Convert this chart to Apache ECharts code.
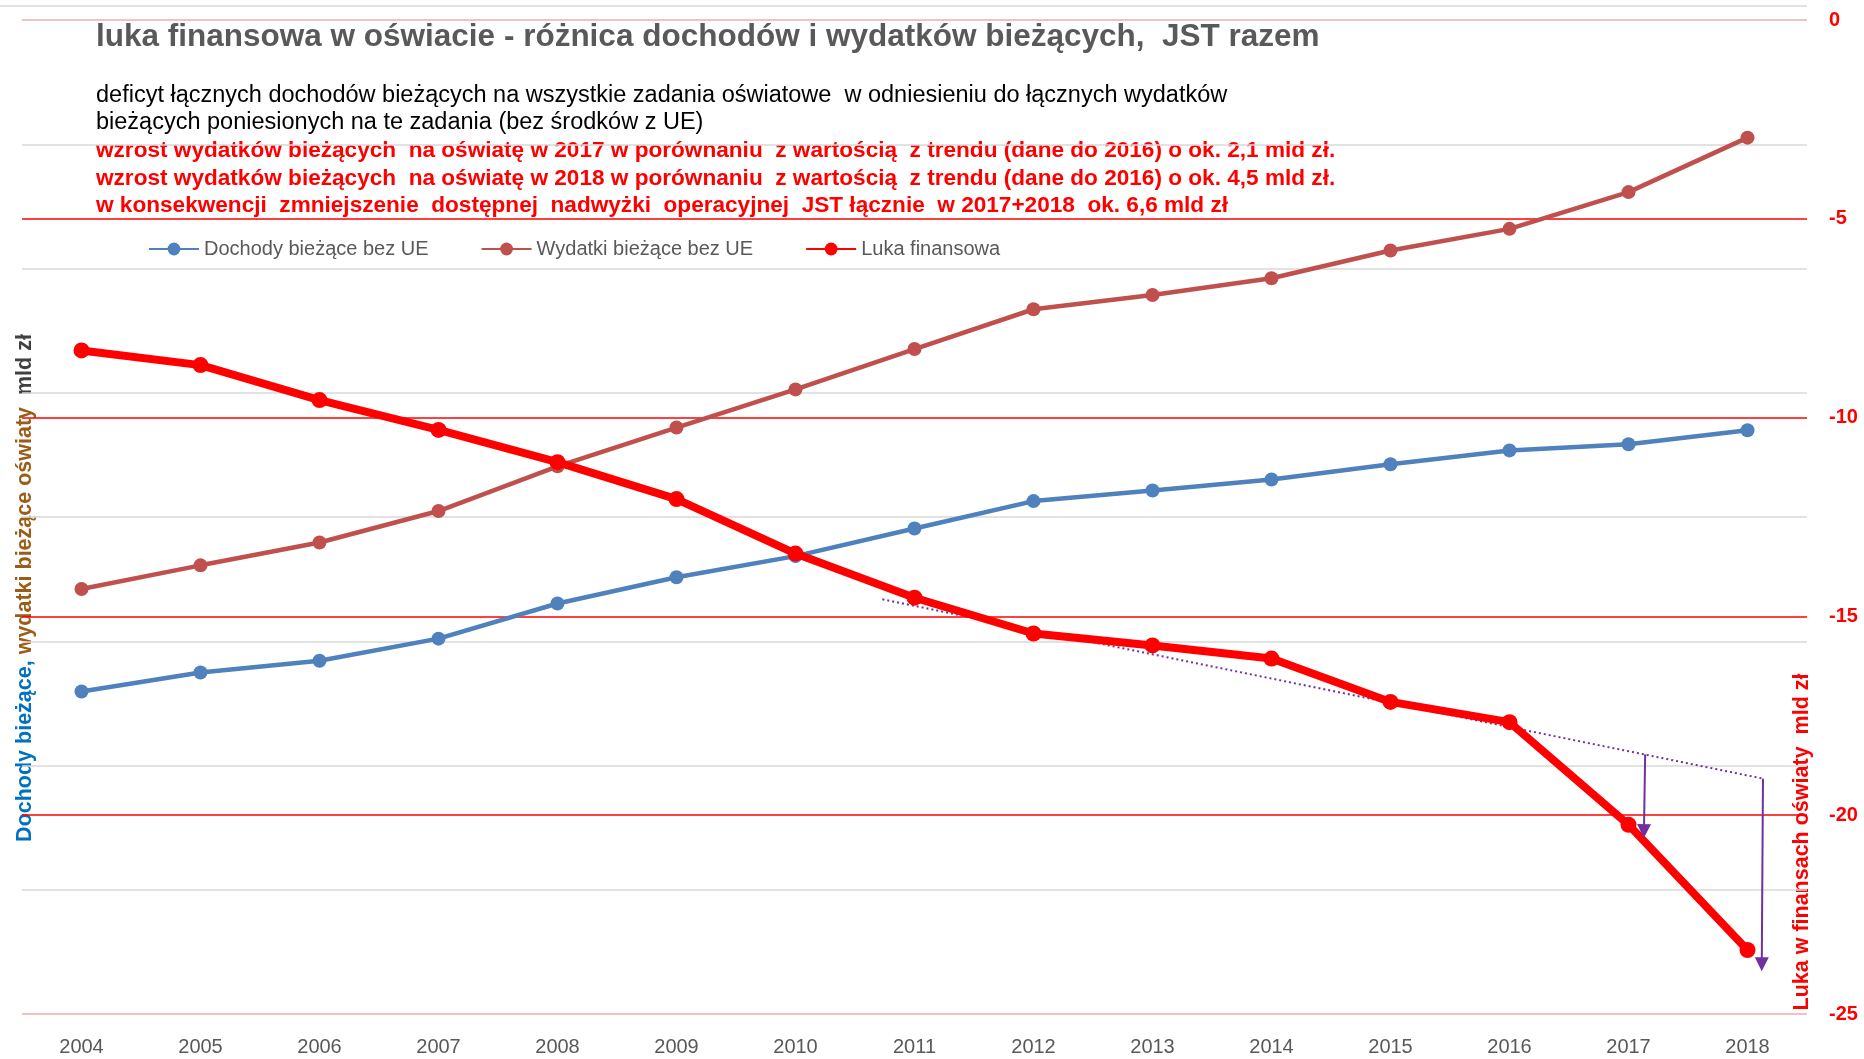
<!DOCTYPE html>
<html>
<head>
<meta charset="utf-8">
<title>luka finansowa w oświacie</title>
<script src="https://cdn.jsdelivr.net/npm/echarts@6/dist/echarts.min.js"></script>
<style>
  html, body { margin: 0; padding: 0; background: #fff; }
  #chart { width: 1864px; height: 1059px; }
</style>
</head>
<body>
<div id="chart"></div>
<script>
// dane (mld zł)
var years = ['2004', '2005', '2006', '2007', '2008', '2009', '2010', '2011', '2012', '2013', '2014', '2015', '2016', '2017', '2018'];
var dochody = [25.95, 27.49, 28.43, 30.21, 33.04, 35.15, 36.85, 39.07, 41.28, 42.13, 43.02, 44.24, 45.36, 45.85, 46.98];
var wydatki = [34.21, 36.11, 37.95, 40.48, 44.08, 47.2, 50.27, 53.52, 56.72, 57.87, 59.21, 61.45, 63.19, 66.15, 70.53];
var luka = [-8.31, -8.68, -9.56, -10.31, -11.12, -12.05, -13.42, -14.53, -15.43, -15.73, -16.06, -17.15, -17.66, -20.24, -23.39];

// trend (dane do 2016) i strzałki odchylenia
var trend = [[2010.73, -14.57], [2018.13, -19.08]];
var arrow2017 = [[2017.14, -18.47], [2017.13, -20.4]];
var arrow2018 = [[2018.13, -19.08], [2018.12, -23.75]];

var rightTicks = [-25, -20, -15, -10, -5, 0];

var chart = echarts.init(document.getElementById('chart'));

var option = {
  animation: false,
  backgroundColor: '#fff',
  grid: { left: 22, right: 57, top: 20, bottom: 45, containLabel: false },
  legend: {
    data: ['Dochody bieżące bez UE', 'Wydatki bieżące bez UE', 'Luka finansowa'],
    left: 143,
    top: 234,
    itemWidth: 50,
    itemHeight: 16,
    itemGap: 52,
    textStyle: { fontFamily: 'Liberation Sans', fontSize: 20, color: '#595959' }
  },
  xAxis: [
    {
      type: 'category',
      data: years,
      boundaryGap: true,
      axisLine: { show: false },
      axisTick: { show: false },
      axisLabel: { color: '#595959', fontSize: 20, fontFamily: 'Liberation Sans', margin: 23 }
    },
    {
      type: 'value',
      min: 2003.5,
      max: 2018.5,
      show: false
    }
  ],
  yAxis: [
    {
      type: 'value',
      position: 'left',
      min: 0,
      max: 80,
      interval: 10,
      axisLine: { show: false },
      axisTick: { show: false },
      axisLabel: { show: false },
      splitLine: { lineStyle: { color: '#D9D9D9', width: 1.5 } }
    },
    {
      type: 'value',
      position: 'right',
      min: rightTicks[0],
      max: rightTicks[rightTicks.length - 1],
      interval: 5,
      axisLine: { show: false },
      axisTick: { show: false },
      axisLabel: { color: '#FF0000', fontWeight: 'bold', fontSize: 20, fontFamily: 'Liberation Sans', margin: 22 },
      splitLine: {
        lineStyle: {
          color: ['#F2B8B8', '#FF0000', '#FF0000', '#FF0000', '#FF0000', '#F2B8B8'],
          width: 1.5
        }
      }
    }
  ],
  series: [
    {
      name: 'Dochody bieżące bez UE',
      type: 'line',
      data: dochody,
      yAxisIndex: 0,
      symbol: 'circle',
      symbolSize: 14,
      itemStyle: { color: '#4F81BD' },
      lineStyle: { color: '#4F81BD', width: 4.5 }
    },
    {
      name: 'Wydatki bieżące bez UE',
      type: 'line',
      data: wydatki,
      yAxisIndex: 0,
      symbol: 'circle',
      symbolSize: 14,
      itemStyle: { color: '#C0504D' },
      lineStyle: { color: '#C0504D', width: 4.5 }
    },
    {
      name: 'trend',
      type: 'line',
      xAxisIndex: 1,
      yAxisIndex: 1,
      data: trend,
      symbol: 'none',
      lineStyle: { color: '#7030A0', width: 2, type: [2, 3] },
      z: 3
    },
    {
      name: 'Luka finansowa',
      type: 'line',
      data: luka,
      yAxisIndex: 1,
      symbol: 'circle',
      symbolSize: 16,
      itemStyle: { color: '#FF0000' },
      lineStyle: { color: '#FF0000', width: 8 },
      z: 4
    },
    {
      name: 'strzałki',
      type: 'lines',
      coordinateSystem: 'cartesian2d',
      xAxisIndex: 1,
      yAxisIndex: 1,
      symbol: ['none', 'triangle'],
      symbolSize: [15, 14],
      lineStyle: { color: '#7030A0', width: 2, opacity: 1 },
      data: [{ coords: arrow2017 }, { coords: arrow2018 }],
      z: 5
    }
  ],
  graphic: [
    {
      type: 'line',
      shape: { x1: 0, y1: 6, x2: 1807, y2: 6 },
      style: { stroke: '#D9D9D9', lineWidth: 1.5 },
      silent: true
    },
    {
      type: 'text', left: 96, top: 21,
      style: {
        text: 'luka finansowa w oświacie - różnica dochodów i wydatków bieżących,  JST razem',
        fill: '#595959', font: 'bold 31.5px "Liberation Sans"'
      }
    },
    {
      type: 'text', left: 96, top: 84,
      style: {
        text: 'deficyt łącznych dochodów bieżących na wszystkie zadania oświatowe  w odniesieniu do łącznych wydatków',
        fill: '#000', font: '23.5px "Liberation Sans"'
      }
    },
    {
      type: 'text', left: 96, top: 111,
      style: {
        text: 'bieżących poniesionych na te zadania (bez środków z UE)',
        fill: '#000', font: '23.5px "Liberation Sans"'
      }
    },
    {
      type: 'text', left: 96, top: 139,
      style: {
        text: 'wzrost wydatków bieżących  na oświatę w 2017 w porównaniu  z wartością  z trendu (dane do 2016) o ok. 2,1 mld zł.',
        fill: '#FF0000', font: 'bold 22.6px "Liberation Sans"'
      }
    },
    {
      type: 'text', left: 96, top: 167,
      style: {
        text: 'wzrost wydatków bieżących  na oświatę w 2018 w porównaniu  z wartością  z trendu (dane do 2016) o ok. 4,5 mld zł.',
        fill: '#FF0000', font: 'bold 22.6px "Liberation Sans"'
      }
    },
    {
      type: 'text', left: 96, top: 194,
      style: {
        text: 'w konsekwencji  zmniejszenie  dostępnej  nadwyżki  operacyjnej  JST łącznie  w 2017+2018  ok. 6,6 mld zł',
        fill: '#FF0000', font: 'bold 22.6px "Liberation Sans"'
      }
    },
    {
      type: 'text', x: 25, y: 588, rotation: Math.PI / 2,
      style: {
        text: '{a|Dochody bieżące,} {b|wydatki bieżące oświaty}  {c|mld zł}',
        align: 'center', verticalAlign: 'middle',
        rich: {
          a: { fill: '#0070C0', font: 'bold 21.5px "Liberation Sans"' },
          b: { fill: '#9C5B16', font: 'bold 21.5px "Liberation Sans"' },
          c: { fill: '#404040', font: 'bold 21.5px "Liberation Sans"' }
        },
        font: 'bold 21.5px "Liberation Sans"'
      }
    },
    {
      type: 'text', x: 1802, y: 842, rotation: Math.PI / 2,
      style: {
        text: 'Luka w finansach oświaty  mld zł',
        align: 'center', verticalAlign: 'middle',
        fill: '#FF0000', font: 'bold 21.5px "Liberation Sans"'
      }
    }
  ]
};

chart.setOption(option);
</script>
</body>
</html>
